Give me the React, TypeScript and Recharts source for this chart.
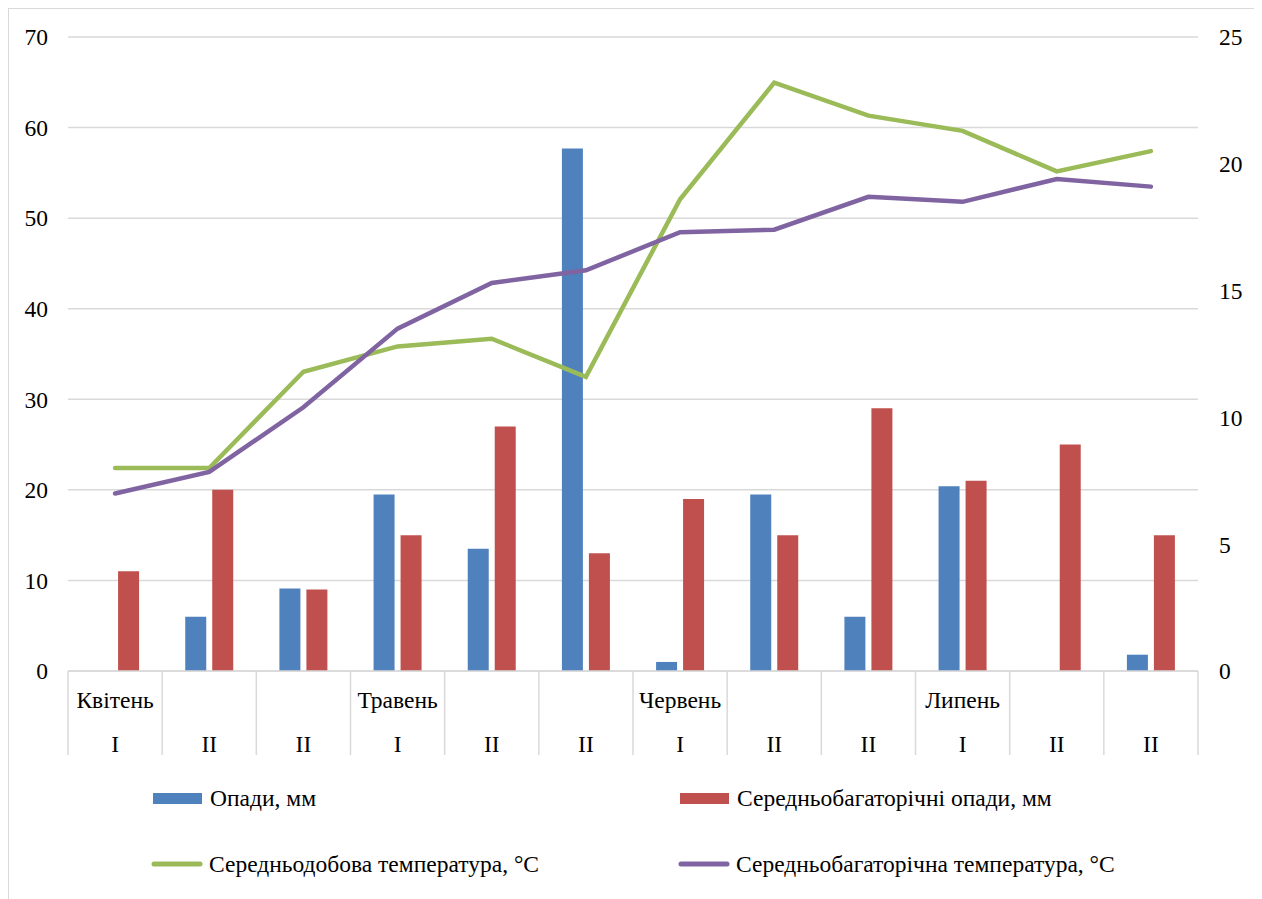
import React from "react";
import { ComposedChart, Bar, Line, XAxis, YAxis, CartesianGrid, Legend } from "recharts";

const decades = ["I", "II", "II", "I", "II", "II", "I", "II", "II", "I", "II", "II"];
const months = ["Квітень", "", "", "Травень", "", "", "Червень", "", "", "Липень", "", ""];
const precipitation = [0, 6, 9.1, 19.5, 13.5, 57.7, 1, 19.5, 6, 20.4, 0, 1.8];
const normalPrecipitation = [11, 20, 9, 15, 27, 13, 19, 15, 29, 21, 25, 15];
const dailyTemp = [8, 8, 11.8, 12.8, 13.1, 11.6, 18.6, 23.2, 21.9, 21.3, 19.7, 20.5];
const normalTemp = [7, 7.85, 10.4, 13.5, 15.3, 15.8, 17.3, 17.4, 18.7, 18.5, 19.4, 19.1];
const leftTicks = [0, 10, 20, 30, 40, 50, 60, 70];
const rightTicks = [0, 5, 10, 15, 20, 25];

const names = {
  p: "Опади, мм",
  np: "Середньобагаторічні опади, мм",
  t: "Середньодобова температура, °C",
  nt: "Середньобагаторічна температура, °C",
};

const colors = { p: "#4F81BD", np: "#C0504D", t: "#9BBB59", nt: "#8064A2" };

const data = decades.map((d, i) => ({
  decade: d,
  month: months[i],
  p: precipitation[i],
  np: normalPrecipitation[i],
  t: dailyTemp[i],
  nt: normalTemp[i],
}));

const FONT = "'Liberation Serif', 'Times New Roman', serif";
const FS = 23.5;
const W = 1248;
const H = 890;
const YW = 59;
const BAND = (W - 2 * YW) / decades.length;
const GRID = "#d9d9d9";

function CatTick(props: any) {
  const { x, y, payload } = props;
  const i = payload.index;
  const left = x - BAND / 2;
  return (
    <g>
      <line x1={left} y1={y} x2={left} y2={y + 84} stroke={GRID} strokeWidth={1.5} />
      {i === decades.length - 1 && (
        <line x1={left + BAND} y1={y} x2={left + BAND} y2={y + 84} stroke={GRID} strokeWidth={1.5} />
      )}
      <text x={x} y={y + 37} textAnchor="middle" fontSize={FS} fill="#000" fontFamily={FONT}>
        {months[i]}
      </text>
      <text x={x} y={y + 81} textAnchor="middle" fontSize={FS} fill="#000" fontFamily={FONT}>
        {payload.value}
      </text>
    </g>
  );
}

function LegendBox() {
  const item = (key: "p" | "np" | "t" | "nt", isLine: boolean) => (
    <div style={{ display: "flex", alignItems: "center" }}>
      {isLine ? (
        <svg width={52} height={10} style={{ marginRight: 6 }}>
          <line x1={3} y1={5} x2={49} y2={5} stroke={colors[key]} strokeWidth={5} strokeLinecap="round" />
        </svg>
      ) : (
        <div style={{ width: 49, height: 11, background: colors[key], marginRight: 8 }} />
      )}
      <span style={{ fontFamily: FONT, fontSize: FS, color: "#000", lineHeight: "28px" }}>{names[key]}</span>
    </div>
  );
  return (
    <div style={{ position: "relative", height: 138 }}>
      <div style={{ position: "absolute", left: 144, top: 23 }}>{item("p", false)}</div>
      <div style={{ position: "absolute", left: 671, top: 23 }}>{item("np", false)}</div>
      <div style={{ position: "absolute", left: 142, top: 89 }}>{item("t", true)}</div>
      <div style={{ position: "absolute", left: 669, top: 89 }}>{item("nt", true)}</div>
    </div>
  );
}

export default function App() {
  return (
    <div style={{ width: W, height: H, border: `1px solid ${GRID}`, background: "#fff" }}>
      <ComposedChart
        width={W}
        height={H}
        data={data}
        margin={{ top: 28, right: 0, bottom: 0, left: 0 }}
        barGap={6}
        barCategoryGap="24.5%"
      >
        <CartesianGrid yAxisId="left" vertical={false} stroke={GRID} strokeWidth={1.5} />
        <XAxis
          dataKey="decade"
          interval={0}
          height={90}
          tickLine={false}
          tickSize={0}
          tickMargin={0}
          axisLine={{ stroke: GRID, strokeWidth: 1.5 }}
          tick={<CatTick />}
        />
        <YAxis
          yAxisId="left"
          width={YW}
          domain={[0, 70]}
          ticks={leftTicks}
          axisLine={false}
          tickLine={false}
          tickMargin={14}
          tick={{ fill: "#000", fontSize: FS, fontFamily: FONT }}
        />
        <YAxis
          yAxisId="right"
          orientation="right"
          width={YW}
          domain={[0, 25]}
          ticks={rightTicks}
          axisLine={false}
          tickLine={false}
          tickMargin={15}
          tick={{ fill: "#000", fontSize: FS, fontFamily: FONT }}
        />
        <Legend verticalAlign="bottom" content={<LegendBox />} />
        <Bar yAxisId="left" dataKey="p" name={names.p} fill={colors.p} isAnimationActive={false} />
        <Bar yAxisId="left" dataKey="np" name={names.np} fill={colors.np} isAnimationActive={false} />
        <Line yAxisId="right" dataKey="t" name={names.t} stroke={colors.t} strokeWidth={4.5} dot={false} strokeLinecap="round" isAnimationActive={false} />
        <Line yAxisId="right" dataKey="nt" name={names.nt} stroke={colors.nt} strokeWidth={4.5} dot={false} strokeLinecap="round" isAnimationActive={false} />
      </ComposedChart>
    </div>
  );
}
